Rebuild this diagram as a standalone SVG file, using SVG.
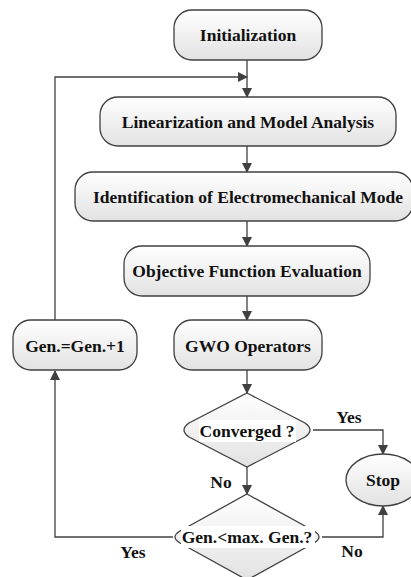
<svg xmlns="http://www.w3.org/2000/svg" width="411" height="577" viewBox="0 0 411 577">
<defs>
<linearGradient id="g" x1="0" y1="0" x2="0" y2="1">
<stop offset="0" stop-color="#ffffff"/>
<stop offset="1" stop-color="#e2e2e2"/>
</linearGradient>
<marker id="a" markerWidth="10" markerHeight="10" refX="9" refY="5" orient="auto" markerUnits="userSpaceOnUse">
<path d="M0,0 L10,5 L0,10 Z" fill="#404040"/>
</marker>
<style>
.n{fill:url(#g);stroke:#404040;stroke-width:1.3}
.t{font-family:"Liberation Serif","Times New Roman",serif;font-weight:bold;font-size:17.5px;fill:#111;text-anchor:middle}
.c{fill:none;stroke:#404040;stroke-width:1.3;marker-end:url(#a)}
.bg{fill:#ffffff}
</style>
</defs>
<g id="connectors">
<path class="c" d="M247,60 V97"/>
<path class="c" d="M55,320 V77 H247"/>
<path class="c" d="M247,146 V172"/>
<path class="c" d="M247,221 V246"/>
<path class="c" d="M247,296 V320"/>
<path class="c" d="M247,370 V393"/>
<path class="c" d="M313,430 H383 V454"/>
<path class="c" d="M247,467 V494"/>
<path class="c" d="M322,537 H383 V506"/>
<path class="c" d="M173,537 H55 V371"/>
<text class="t" x="349" y="423">Yes</text>
<text class="t" x="221" y="488">No</text>
<text class="t" x="133" y="558">Yes</text>
<text class="t" x="352" y="557">No</text>
</g>
<g id="init">
<rect class="n" x="174" y="10" width="148" height="50" rx="18"/>
<text class="t" x="248" y="41">Initialization</text>
</g>
<g id="linear">
<rect class="n" x="100" y="97" width="296" height="49" rx="18"/>
<text class="t" x="248" y="128">Linearization and Model Analysis</text>
</g>
<g id="ident">
<rect class="n" x="75" y="172" width="338" height="49" rx="18"/>
<text class="t" x="248" y="203">Identification of Electromechanical Mode</text>
</g>
<g id="objective">
<rect class="n" x="124" y="246" width="246" height="50" rx="18"/>
<text class="t" x="247" y="277">Objective Function Evaluation</text>
</g>
<g id="gwo">
<rect class="n" x="174" y="320" width="148" height="50" rx="18"/>
<text class="t" x="248" y="352">GWO Operators</text>
</g>
<g id="gen">
<rect class="n" x="13" y="320" width="124" height="50" rx="18"/>
<text class="t" x="75" y="352">Gen.=Gen.+1</text>
</g>
<g id="converged">
<path class="n" d="M247,393 L305,423 Q315,430 305,437 L247,467 L189,437 Q179,430 189,423 Z"/>
<rect class="bg" x="199" y="420" width="97" height="22"/>
<text class="t" x="247" y="437">Converged ?</text>
</g>
<g id="stop">
<ellipse class="n" cx="383" cy="480" rx="37" ry="26"/>
<text class="t" x="383" y="486">Stop</text>
</g>
<g id="maxgen">
<path class="n" d="M247,494 L314,531 Q324,537 314,543 L247,580 L180,543 Q170,537 180,531 Z"/>
<rect class="bg" x="181" y="526" width="134" height="22"/>
<text class="t" x="247" y="543">Gen.&lt;max. Gen.?</text>
</g>
</svg>
